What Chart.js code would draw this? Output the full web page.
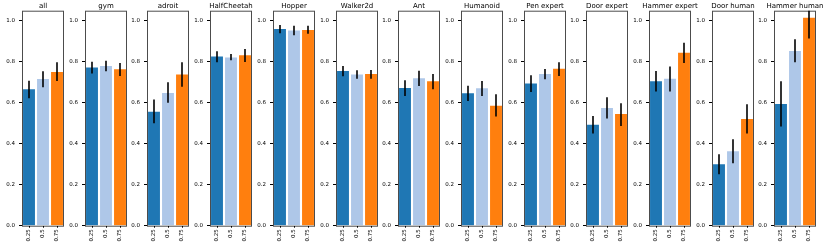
<!DOCTYPE html>
<html>
<head>
<meta charset="utf-8">
<script src="https://cdn.jsdelivr.net/npm/chart.js@4.4.0/dist/chart.umd.min.js"></script>
<style>
html, body { margin: 0; padding: 0; background: #fff; }
#wrap { position: relative; width: 830px; height: 245px; overflow: hidden; }
.panel { position: absolute; top: 0; }
</style>
</head>
<body>
<div id="wrap"></div>
<script>
// panel names and the three fractions on each x axis
var tasks = ['all', 'gym', 'adroit', 'HalfCheetah', 'Hopper', 'Walker2d', 'Ant',
    'Humanoid', 'Pen expert', 'Door expert', 'Hammer expert', 'Door human', 'Hammer human'];
var fractions = ['0.25', '0.5', '0.75'];

// bar heights, one value per panel
var mean25 = [0.666, 0.772, 0.557, 0.826, 0.961, 0.756, 0.673, 0.647, 0.694, 0.493, 0.705, 0.300, 0.594];
var mean50 = [0.717, 0.780, 0.648, 0.822, 0.953, 0.739, 0.720, 0.671, 0.741, 0.575, 0.718, 0.363, 0.853];
var mean75 = [0.751, 0.764, 0.738, 0.832, 0.956, 0.741, 0.705, 0.586, 0.767, 0.546, 0.845, 0.521, 1.016];

// error bar ends
var lo25 = [0.622, 0.743, 0.500, 0.798, 0.940, 0.730, 0.634, 0.609, 0.653, 0.450, 0.655, 0.251, 0.484];
var hi25 = [0.708, 0.801, 0.616, 0.852, 0.980, 0.780, 0.710, 0.684, 0.735, 0.536, 0.756, 0.349, 0.705];
var lo50 = [0.676, 0.754, 0.601, 0.808, 0.930, 0.718, 0.682, 0.634, 0.715, 0.523, 0.656, 0.305, 0.798];
var hi50 = [0.754, 0.806, 0.700, 0.839, 0.976, 0.759, 0.757, 0.707, 0.765, 0.627, 0.778, 0.422, 0.910];
var lo75 = [0.707, 0.731, 0.678, 0.800, 0.938, 0.718, 0.666, 0.533, 0.731, 0.487, 0.795, 0.450, 0.914];
var hi75 = [0.798, 0.795, 0.798, 0.863, 0.976, 0.761, 0.741, 0.642, 0.798, 0.598, 0.894, 0.593, 1.120];

var colors = ['#1f77b4', '#aec7e8', '#ff7f0e'];
var FONT = 'DejaVu Sans';

// draws the black error lines over each bar
var errorBars = {
    id: 'errorBars',
    afterDatasetsDraw: function(chart) {
        var ctx = chart.ctx, area = chart.chartArea, y = chart.scales.y;
        var ds = chart.data.datasets[0];
        var meta = chart.getDatasetMeta(0);
        ctx.save();
        ctx.beginPath();
        ctx.rect(area.left, area.top, area.right - area.left, area.bottom - area.top);
        ctx.clip();
        ctx.strokeStyle = '#000';
        ctx.lineWidth = 1.6;
        meta.data.forEach(function(bar, i) {
            ctx.beginPath();
            ctx.moveTo(bar.x, y.getPixelForValue(ds.lo[i]));
            ctx.lineTo(bar.x, y.getPixelForValue(ds.hi[i]));
            ctx.stroke();
        });
        ctx.restore();
    }
};

// frame round the plot area, and the panel title centred over it
var frame = {
    id: 'frame',
    afterDraw: function(chart, args, opts) {
        var ctx = chart.ctx, a = chart.chartArea;
        ctx.save();
        ctx.strokeStyle = 'rgba(0,0,0,0.7)';
        ctx.lineWidth = 1;
        ctx.strokeRect(a.left + 0.5, a.top + 0.5, a.right - a.left - 1, a.bottom - a.top);
        ctx.fillStyle = '#000';
        ctx.font = '7px "' + FONT + '"';
        ctx.textAlign = 'center';
        ctx.textBaseline = 'alphabetic';
        ctx.fillText(opts.text, (a.left + a.right) / 2, a.top - 2.5);
        ctx.restore();
    }
};

function makePanel(i) {
    var div = document.createElement('div');
    div.className = 'panel';
    div.style.left = Math.round(i * 62.7) + 'px';
    var canvas = document.createElement('canvas');
    canvas.width = 78;
    canvas.height = 245;
    div.appendChild(canvas);
    document.getElementById('wrap').appendChild(div);

    new Chart(canvas.getContext('2d'), {
        type: 'bar',
        data: {
            labels: fractions,
            datasets: [{
                data: [mean25[i], mean50[i], mean75[i]],
                lo: [lo25[i], lo50[i], lo75[i]],
                hi: [hi25[i], hi50[i], hi75[i]],
                backgroundColor: colors,
                borderWidth: 0,
                categoryPercentage: 1,
                barPercentage: 0.85
            }]
        },
        options: {
            responsive: false,
            animation: false,
            devicePixelRatio: 1,
            layout: { padding: { left: 0, right: 14, top: 10.7, bottom: 0 } },
            plugins: {
                legend: { display: false },
                tooltip: { enabled: false },
                title: { display: false },
                frame: { text: tasks[i] }
            },
            scales: {
                x: {
                    grid: { display: true, drawOnChartArea: false, drawTicks: true, tickLength: 2, offset: false, color: '#000' },
                    border: { display: false },
                    ticks: {
                        color: '#000',
                        font: { family: FONT, size: 5.5 },
                        minRotation: 90,
                        maxRotation: 90,
                        autoSkip: false,
                        padding: 1.5
                    },
                    afterFit: function(s) { s.height = 19.3; }
                },
                y: {
                    min: 0,
                    max: 1.05,
                    grid: { display: true, drawOnChartArea: false, drawTicks: true, tickLength: 3, color: '#000' },
                    border: { display: false },
                    ticks: {
                        stepSize: 0.2,
                        includeBounds: false,
                        color: '#000',
                        font: { family: FONT, size: 5.5 },
                        padding: 4,
                        callback: function(v) { return v.toFixed(1); }
                    },
                    afterFit: function(s) { s.width = 22; }
                }
            }
        },
        plugins: [errorBars, frame]
    });
}

for (var i = 0; i < tasks.length; i++) makePanel(i);
</script>
</body>
</html>
